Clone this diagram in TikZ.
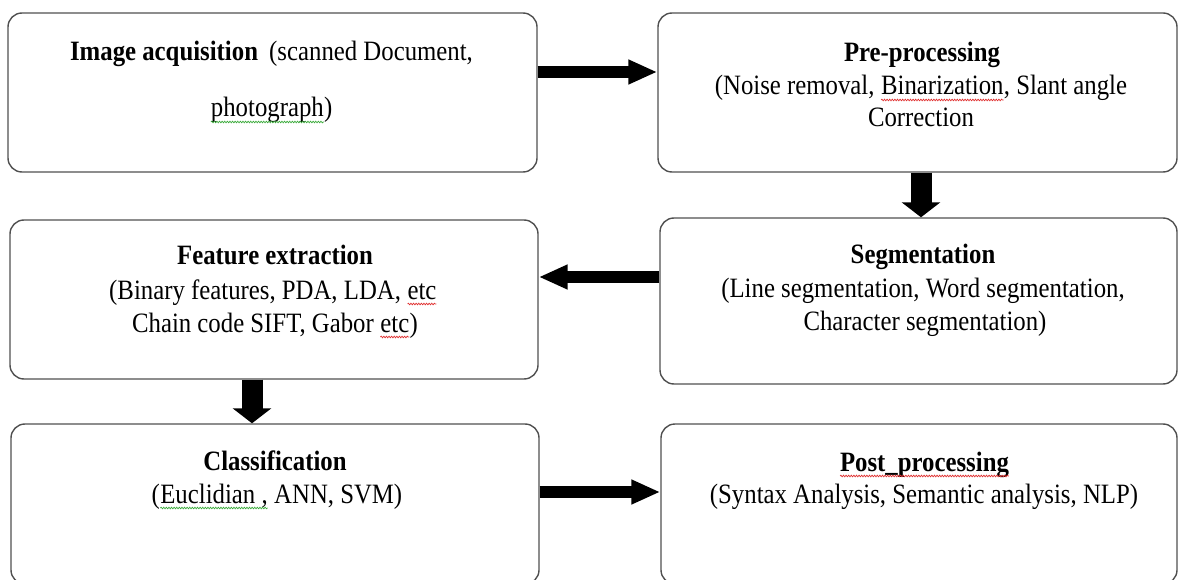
\documentclass[tikz,border=0pt]{standalone}
\usepackage{fontspec}
\setmainfont{Liberation Serif}[FakeStretch=0.885]
\usetikzlibrary{arrows.meta,decorations.pathmorphing}
\definecolor{boxline}{HTML}{505050}
\definecolor{spellred}{HTML}{E03030}
\definecolor{spellgreen}{HTML}{3AAA3A}
\newcommand\squig[2]{\tikz[baseline=(sq.base)]{\node[inner sep=0pt,outer sep=0pt,anchor=base](sq){#2};\draw[#1,line width=0.7pt,decorate,decoration={snake,amplitude=0.8pt,segment length=2.6pt}]([yshift=-5pt]sq.base west)--([yshift=-5pt]sq.base east);}}
\tikzset{
  box/.style={draw=boxline,line width=1.4pt,rounded corners=14pt,inner sep=0pt,fill=white},
  txt/.style={anchor=base,inner sep=0pt,font=\fontsize{28}{32}\selectfont},
  harrow/.style={line width=12pt,-{Triangle[length=29pt,width=23pt]}},
  varrow/.style={line width=21pt,-{Triangle[length=15pt,width=38pt]}}
}
\begin{document}
\begin{tikzpicture}[x=1pt,y=-1pt]
\useasboundingbox (0,0) rectangle (1181,580);
\fill[white] (0,0) rectangle (1181,580);
% boxes
\node[box,minimum width=529pt,minimum height=159pt] (b1) at (272.5,92.5) {};
\node[box,minimum width=519pt,minimum height=159pt] (b2) at (917.5,92.5) {};
\node[box,minimum width=528pt,minimum height=159pt] (b3) at (274,299.5) {};
\node[box,minimum width=517pt,minimum height=166pt] (b4) at (918.5,301) {};
\node[box,minimum width=528pt,minimum height=160pt] (b5) at (275,504) {};
\node[box,minimum width=516pt,minimum height=160pt] (b6) at (919,504) {};
% texts
\node[txt] (t1a) at (271.5,61) {{\bfseries Image acquisition}\hspace{0.4em}(scanned Document,};
\node[txt] (t1b) at (271.5,117) {\squig{spellgreen}{photograph})};
\node[txt] (t2a) at (922,62) {\bfseries Pre-processing};
\node[txt] (t2b) at (921,95) {(Noise removal, \squig{spellred}{Binarization}, Slant angle};
\node[txt] (t2c) at (921,127) {Correction};
\node[txt] (t3a) at (275,265) {\bfseries Feature extraction};
\node[txt] (t3b) at (273,299) {(Binary features, PDA, LDA, \squig{spellred}{etc}};
\node[txt] (t3c) at (275,332) {Chain code SIFT, Gabor \squig{spellred}{etc})};
\node[txt] (t4a) at (923,263) {\bfseries Segmentation};
\node[txt] (t4b) at (923,297) {(Line segmentation, Word segmentation,};
\node[txt] (t4c) at (925,330) {Character segmentation)};
\node[txt] (t5a) at (275,470) {\bfseries Classification};
\node[txt] (t5b) at (277,503) {(\squig{spellgreen}{Euclidian ,} ANN, SVM)};
\node[txt] (t6a) at (924.5,471) {\bfseries\squig{spellred}{Post\_processing}};
\node[txt] (t6b) at (924,503) {(Syntax Analysis, Semantic analysis, NLP)};
% arrows
\coordinate (a1s) at ([yshift=20.5pt]b1.east);
\draw[harrow] (a1s) -- (a1s -| b2.west);
\coordinate (a2s) at ([xshift=3.5pt]b2.south);
\draw[varrow] (a2s) -- (a2s |- b4.north);
\coordinate (a3s) at ([yshift=24pt]b4.west);
\draw[harrow] (a3s) -- (a3s -| b3.east);
\coordinate (a4s) at ([xshift=-22pt]b3.south);
\draw[varrow] (a4s) -- (a4s |- b5.north);
\coordinate (a5s) at ([yshift=12pt]b5.east);
\draw[harrow] (a5s) -- (a5s -| b6.west);
\end{tikzpicture}
\end{document}
